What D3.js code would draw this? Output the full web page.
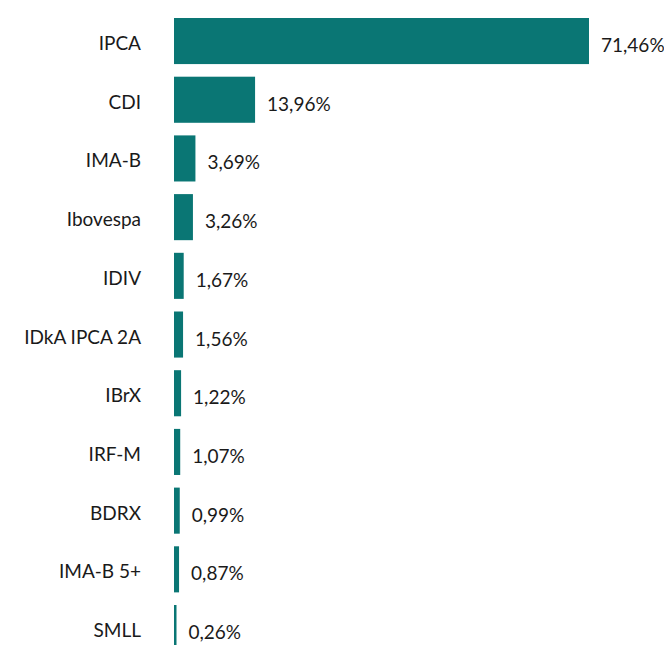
<!DOCTYPE html>
<html><head><meta charset="utf-8">
<script src="https://cdn.jsdelivr.net/npm/d3@7"></script>
<style>
html,body{margin:0;padding:0;background:#fff;}
svg{display:block;font-family:Lato,sans-serif;}
</style></head>
<body>
<svg id="c" width="664" height="645"></svg>
<script>
const categories = ["IPCA","CDI","IMA-B","Ibovespa","IDIV","IDkA IPCA 2A","IBrX","IRF-M","BDRX","IMA-B 5+","SMLL"];
const values = [71.46,13.96,3.69,3.26,1.67,1.56,1.22,1.07,0.99,0.87,0.26];
const valueLabels = ["71,46%","13,96%","3,69%","3,26%","1,67%","1,56%","1,22%","1,07%","0,99%","0,87%","0,26%"];

const svg = d3.select("#c");
const x0 = 174;
const x = d3.scaleLinear().domain([0, 71.46]).range([x0, 589]);
const step = 58.7, pad = 0.215;
const y = d3.scaleBand().domain(categories).range([18, 18 + step*(categories.length - pad)]).paddingInner(pad).paddingOuter(0);
const color = "#0a7674";

const g = svg.append("g");
categories.forEach((c,i)=>{
  const yy = y(c), h = y.bandwidth();
  const w = Math.max(2.5, x(values[i]) - x0);
  g.append("rect").attr("x", x0).attr("y", yy).attr("width", w).attr("height", h).attr("fill", color);
  g.append("text").attr("x", 141).attr("y", yy + h/2 + 9).attr("text-anchor","end")
    .attr("font-size", 19).attr("fill","#1a1a1a").text(c);
  g.append("text").attr("x", x0 + w + 12).attr("y", yy + h/2 + 11)
    .attr("font-size", 19).attr("fill","#1a1a1a").text(valueLabels[i]);
});
</script>
</body></html>
